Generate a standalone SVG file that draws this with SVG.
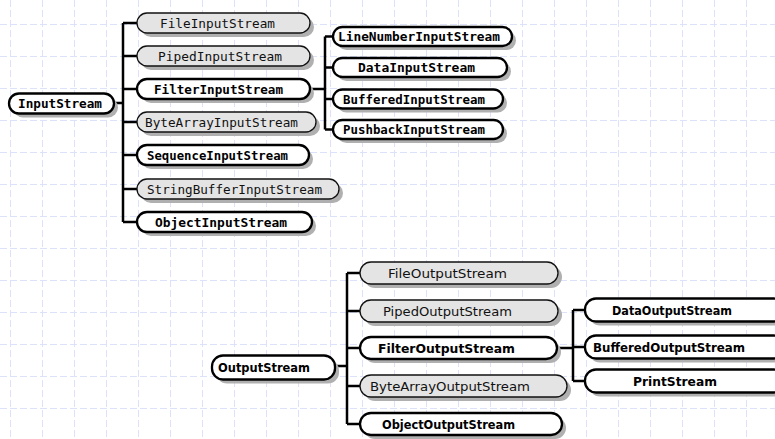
<svg xmlns="http://www.w3.org/2000/svg" width="775" height="439" viewBox="0 0 775 439">
<style>
.grid{stroke:#dde2fb;stroke-width:1;stroke-dasharray:7 3;fill:none}
.sh{fill:#b0b0b0}
.g{fill:#e4e4e4;stroke:#111;stroke-width:1.3}
.w{fill:#fff;stroke:#000;stroke-width:2.3}
.tm{font-family:"DejaVu Sans Mono","Liberation Mono",monospace;font-size:13px;fill:#111;text-anchor:middle}
.tmb{font-family:"DejaVu Sans Mono","Liberation Mono",monospace;font-size:13px;font-weight:bold;fill:#000;text-anchor:middle}
.ts{font-family:"DejaVu Sans","Liberation Sans",sans-serif;font-size:12.5px;fill:#111;text-anchor:middle}
.tsb{font-family:"DejaVu Sans","Liberation Sans",sans-serif;font-size:12.5px;font-weight:bold;fill:#000;text-anchor:middle}
.c{stroke:#000;stroke-width:2.5;fill:none}
</style>
<rect x="0" y="0" width="775" height="439" fill="#fff"/>
<path class="grid" d="M10.5 0V439M42.5 0V439M74.5 0V439M106.5 0V439M138.5 0V439M170.5 0V439M202.5 0V439M234.5 0V439M266.5 0V439M298.5 0V439M330.5 0V439M362.5 0V439M394.5 0V439M426.5 0V439M458.5 0V439M490.5 0V439M522.5 0V439M554.5 0V439M586.5 0V439M618.5 0V439M650.5 0V439M682.5 0V439M714.5 0V439M746.5 0V439M0 24.5H775M0 56.5H775M0 88.5H775M0 120.5H775M0 152.5H775M0 184.5H775M0 216.5H775M0 248.5H775M0 280.5H775M0 312.5H775M0 344.5H775M0 376.5H775M0 408.5H775"/>
<g id="connectors">
<path class="c" d="M114 103H123M123 23V222M123 23H137M123 56H137M123 89H137M123 122H137M123 155H137M123 189H137M123 222H137"/>
<path class="c" d="M310 89H325M325 36.5V129.5M325 36.5H333M325 67.5H333M325 99H333M325 129.5H333"/>
<path class="c" d="M335 366H347M347 273V424M347 273H360M347 311H360M347 348H360M347 386H360M347 424H360"/>
<path class="c" d="M557 348H573M573 310V381M573 310H585M573 347H585M573 381H585"/>
</g>
<g id="InputStream"><rect class="sh" x="13" y="97.5" width="105" height="20" rx="10"/><rect class="w" x="9" y="93.5" width="105" height="20" rx="10"/><text class="tmb" x="60" y="108" textLength="84" lengthAdjust="spacingAndGlyphs">InputStream</text></g>
<g id="FileInputStream"><rect class="sh" x="141" y="17" width="173" height="20" rx="10"/><rect class="g" x="137" y="13" width="173" height="20" rx="10"/><text class="tm" x="217.5" y="27.5" textLength="115" lengthAdjust="spacingAndGlyphs">FileInputStream</text></g>
<g id="PipedInputStream"><rect class="sh" x="141" y="50" width="173" height="20" rx="10"/><rect class="g" x="137" y="46" width="173" height="20" rx="10"/><text class="tm" x="220" y="60.5" textLength="124" lengthAdjust="spacingAndGlyphs">PipedInputStream</text></g>
<g id="FilterInputStream"><rect class="sh" x="141" y="83" width="173" height="20" rx="10"/><rect class="w" x="137" y="79" width="173" height="20" rx="10"/><text class="tmb" x="218.5" y="93.5" textLength="129" lengthAdjust="spacingAndGlyphs">FilterInputStream</text></g>
<g id="ByteArrayInputStream"><rect class="sh" x="141" y="116" width="179" height="20" rx="10"/><rect class="g" x="137" y="112" width="179" height="20" rx="10"/><text class="tm" x="221.5" y="126.5" textLength="153" lengthAdjust="spacingAndGlyphs">ByteArrayInputStream</text></g>
<g id="SequenceInputStream"><rect class="sh" x="141" y="149" width="172" height="20" rx="10"/><rect class="w" x="137" y="145" width="172" height="20" rx="10"/><text class="tmb" x="217.5" y="159.5" textLength="141" lengthAdjust="spacingAndGlyphs">SequenceInputStream</text></g>
<g id="StringBufferInputStream"><rect class="sh" x="141" y="183" width="202" height="20" rx="10"/><rect class="g" x="137" y="179" width="202" height="20" rx="10"/><text class="tm" x="234.5" y="193.5" textLength="175" lengthAdjust="spacingAndGlyphs">StringBufferInputStream</text></g>
<g id="ObjectInputStream"><rect class="sh" x="141" y="216" width="175" height="20" rx="10"/><rect class="w" x="137" y="212" width="175" height="20" rx="10"/><text class="tmb" x="221" y="226.5" textLength="132" lengthAdjust="spacingAndGlyphs">ObjectInputStream</text></g>
<g id="LineNumberInputStream"><rect class="sh" x="337" y="31" width="179" height="19" rx="9.5"/><rect class="w" x="333" y="27" width="179" height="19" rx="9.5"/><text class="tmb" x="419" y="41" textLength="162" lengthAdjust="spacingAndGlyphs">LineNumberInputStream</text></g>
<g id="DataInputStream"><rect class="sh" x="337" y="62" width="174" height="19" rx="9.5"/><rect class="w" x="333" y="58" width="174" height="19" rx="9.5"/><text class="tmb" x="416.5" y="72" textLength="117" lengthAdjust="spacingAndGlyphs">DataInputStream</text></g>
<g id="BufferedInputStream"><rect class="sh" x="337" y="93.5" width="170" height="19" rx="9.5"/><rect class="w" x="333" y="89.5" width="170" height="19" rx="9.5"/><text class="tmb" x="414" y="103.5" textLength="142" lengthAdjust="spacingAndGlyphs">BufferedInputStream</text></g>
<g id="PushbackInputStream"><rect class="sh" x="337" y="124" width="170" height="19" rx="9.5"/><rect class="w" x="333" y="120" width="170" height="19" rx="9.5"/><text class="tmb" x="414" y="134" textLength="142" lengthAdjust="spacingAndGlyphs">PushbackInputStream</text></g>
<g id="OutputStream"><rect class="sh" x="216" y="359.5" width="123" height="24" rx="11"/><rect class="w" x="212" y="355.5" width="123" height="24" rx="11"/><text class="tsb" x="264" y="372" textLength="92" lengthAdjust="spacingAndGlyphs">OutputStream</text></g>
<g id="FileOutputStream"><rect class="sh" x="364" y="266" width="198" height="22" rx="11"/><rect class="g" x="360" y="262" width="198" height="22" rx="11"/><text class="ts" x="447.5" y="277.5" textLength="119" lengthAdjust="spacingAndGlyphs">FileOutputStream</text></g>
<g id="PipedOutputStream"><rect class="sh" x="364" y="304" width="198" height="22" rx="11"/><rect class="g" x="360" y="300" width="198" height="22" rx="11"/><text class="ts" x="447.5" y="315.5" textLength="129" lengthAdjust="spacingAndGlyphs">PipedOutputStream</text></g>
<g id="FilterOutputStream"><rect class="sh" x="364" y="341" width="197" height="22" rx="11"/><rect class="w" x="360" y="337" width="197" height="22" rx="11"/><text class="tsb" x="446.5" y="352.5" textLength="137" lengthAdjust="spacingAndGlyphs">FilterOutputStream</text></g>
<g id="ByteArrayOutputStream"><rect class="sh" x="364" y="379" width="207" height="22" rx="11"/><rect class="g" x="360" y="375" width="207" height="22" rx="11"/><text class="ts" x="450" y="390.5" textLength="160" lengthAdjust="spacingAndGlyphs">ByteArrayOutputStream</text></g>
<g id="ObjectOutputStream"><rect class="sh" x="364" y="417" width="202" height="22" rx="11"/><rect class="w" x="360" y="413" width="202" height="22" rx="11"/><text class="tsb" x="448.5" y="428.5" textLength="133" lengthAdjust="spacingAndGlyphs">ObjectOutputStream</text></g>
<g id="DataOutputStream"><rect class="sh" x="589" y="302.5" width="200" height="23" rx="11"/><rect class="w" x="585" y="298.5" width="200" height="23" rx="11"/><text class="tsb" x="672" y="314.5" textLength="120" lengthAdjust="spacingAndGlyphs">DataOutputStream</text></g>
<g id="BufferedOutputStream"><rect class="sh" x="589" y="339.5" width="200" height="23" rx="11"/><rect class="w" x="585" y="335.5" width="200" height="23" rx="11"/><text class="tsb" x="669" y="351.5" textLength="152" lengthAdjust="spacingAndGlyphs">BufferedOutputStream</text></g>
<g id="PrintStream"><rect class="sh" x="589" y="373.5" width="200" height="23" rx="11"/><rect class="w" x="585" y="369.5" width="200" height="23" rx="11"/><text class="tsb" x="675" y="385.5" textLength="84" lengthAdjust="spacingAndGlyphs">PrintStream</text></g>
</svg>
